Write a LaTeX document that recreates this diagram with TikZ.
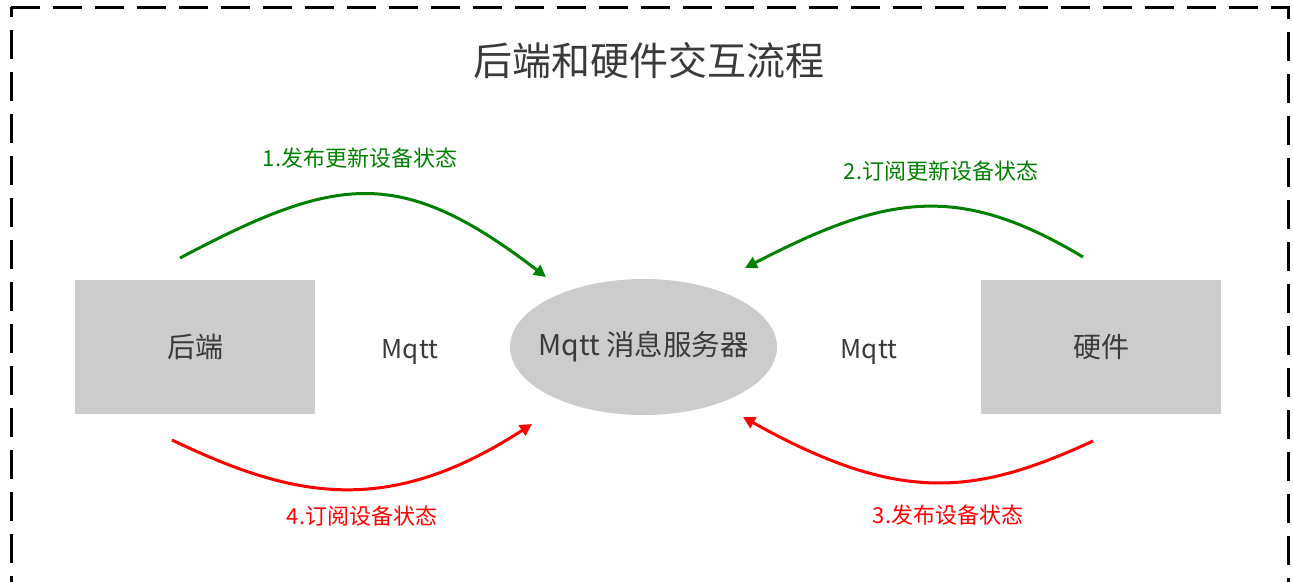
\documentclass[tikz,border=0pt]{standalone}
\usepackage{fontspec}
\setmainfont{Noto Sans CJK SC}
\usetikzlibrary{shapes.geometric,arrows.meta}
\definecolor{boxgray}{HTML}{CCCCCC}
\definecolor{txtgray}{HTML}{3A3A3A}
\definecolor{flowgreen}{RGB}{0,128,0}
\definecolor{flowred}{RGB}{255,0,0}
\tikzset{
  box/.style={rectangle, fill=boxgray, draw=none, inner sep=0pt,
    minimum width=240pt, minimum height=134pt, text=txtgray,
    font=\fontsize{28}{30}\selectfont},
  server/.style={ellipse, fill=boxgray, draw=none, inner sep=0pt,
    minimum width=267pt, minimum height=136pt},
  servertext/.style={text=txtgray, inner sep=0pt, font=\fontsize{28.5}{30}\selectfont},
  plain/.style={text=txtgray, inner sep=0pt, font=\fontsize{26}{28}\selectfont},
  titletext/.style={text=txtgray, inner sep=0pt, font=\fontsize{39}{41}\selectfont},
  greenlabel/.style={text=flowgreen, inner sep=0pt, font=\fontsize{22}{24}\selectfont},
  redlabel/.style={text=flowred, inner sep=0pt, font=\fontsize{22}{24}\selectfont},
  flow/.style={line width=3pt, -{Triangle[length=12pt,width=12pt]}},
  frame/.style={draw=black, line width=3pt, dash pattern=on 29pt off 13pt}
}
\begin{document}
\begin{tikzpicture}[x=1pt,y=-1pt]
\useasboundingbox (0,0) rectangle (1293,581);
% dashed frame
\draw[frame] (11,7) -- (1288,7) -- (1288,583) -- (11,583) -- cycle;
% title
\node[titletext] (title) at (649,60.5) {后端和硬件交互流程};
% main nodes
\node[box] (back) at (195,346.5) {后端};
\node[box] (hw) at (1101,346.5) {硬件};
\node[server] (srv) at (643.5,347) {};
\node[servertext] (srvtext) at (srv.center) {Mqtt 消息服务器};
\node[plain] (mq1) at (410,352) {Mqtt};
\node[plain] (mq2) at (869,352) {Mqtt};
% connector end points
\coordinate (a1s) at (180,258);
\coordinate (a1e) at (546,277);
\coordinate (a2s) at (1083,257);
\coordinate (a2e) at (745,268);
\coordinate (a4s) at (172,440);
\coordinate (a4e) at (532,424);
\coordinate (a3s) at (1093,441);
\coordinate (a3e) at (743,417);
% arrows
\draw[flow, flowgreen] (a1s) .. controls (337,175) and (400,165) .. (a1e);
\draw[flow, flowgreen] (a2s) .. controls (958,182) and (886,195) .. (a2e);
\draw[flow, flowred] (a4s) .. controls (293,498) and (387,518) .. (a4e);
\draw[flow, flowred] (a3s) .. controls (976,495) and (900,505) .. (a3e);
% labels
\node[greenlabel] (l1) at (360,158) {1.发布更新设备状态};
\node[greenlabel] (l2) at (941,171) {2.订阅更新设备状态};
\node[redlabel] (l4) at (362,516) {4.订阅设备状态};
\node[redlabel] (l3) at (948,515) {3.发布设备状态};
\end{tikzpicture}
\end{document}
